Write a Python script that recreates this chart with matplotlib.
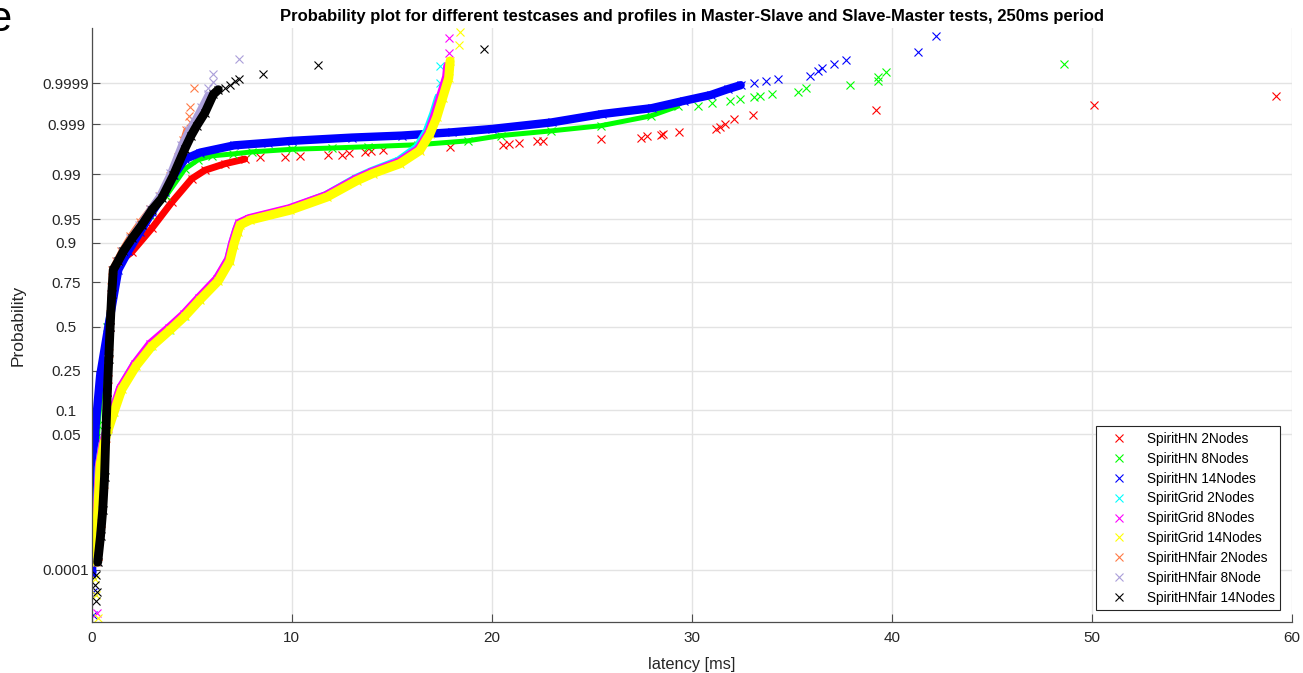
import math
import numpy as np
import matplotlib
matplotlib.use('Agg')
import matplotlib.pyplot as plt
from matplotlib.ticker import FixedLocator, NullLocator

# (latency [ms], probability).
# *_band = dense part of each series, *_tail = the single scattered markers
hn2_band = [(0.30, 2.33e-4), (0.47, 0.00135), (0.62, 0.0107), (0.74, 0.0668), (0.82, 0.2119),
            (0.90, 0.5), (0.98, 0.6915), (1.07, 0.7881), (1.42, 0.8413), (2.0, 0.8729),
            (3.0, 0.9332), (4.0, 0.9713), (5.0, 0.98809), (5.66, 0.99158), (6.66, 0.99361),
            (7.65, 0.99477)]
hn2_tail = [(8.41, 0.99520), (9.66, 0.99520), (10.4, 0.99547), (11.8, 0.99560), (12.5, 0.99573),
            (12.85, 0.99598), (13.65, 0.99621), (13.95, 0.99643), (14.55, 0.99653), (17.9, 0.99693),
            (20.55, 0.99720), (20.85, 0.99737), (21.35, 0.99744), (22.25, 0.99767), (22.55, 0.99774),
            (25.45, 0.99795), (27.45, 0.99807), (27.75, 0.99819), (28.45, 0.99831), (28.55, 0.99841),
            (29.35, 0.99856), (31.2, 0.99874), (31.4, 0.99886), (31.65, 0.99903), (32.1, 0.99924),
            (33.05, 0.99938), (39.2, 0.99953), (50.1, 0.99964), (59.2, 0.99979)]

hn8_band = [(0.07, 2.33e-4), (0.17, 0.00621), (0.32, 0.0668), (0.52, 0.2119), (0.77, 0.5),
            (1.12, 0.7734), (1.52, 0.8643), (2.12, 0.9192), (2.92, 0.9554), (3.72, 0.9772),
            (4.66, 0.99202), (5.32, 0.99461), (6.0, 0.99547), (7.07, 0.99585), (8.0, 0.99621),
            (10.0, 0.99664), (12.0, 0.99683), (13.8, 0.99702), (16.3, 0.99728), (18.8, 0.99774),
            (20.45, 0.99825), (22.95, 0.99861), (25.45, 0.99893), (27.95, 0.99936), (29.3, 0.99962)]
hn8_tail = [(30.3, 0.99962), (31.0, 0.99969), (31.9, 0.99972), (32.4, 0.99975), (33.1, 0.999776),
            (33.4, 0.999792), (34.0, 0.999807), (35.3, 0.999835), (35.7, 0.999864), (37.9, 0.999888),
            (39.3, 0.999912), (39.3, 0.999930), (39.7, 0.999950), (48.6, 0.9999697)]

hn14_band = [(0.02, 7.2e-5), (0.03, 0.00135), (0.08, 0.0139), (0.17, 0.0548), (0.42, 0.2266),
             (0.83, 0.5), (1.33, 0.8078), (1.82, 0.8749), (2.42, 0.9265), (3.02, 0.9599),
             (3.66, 0.9803), (4.12, 0.98983), (4.66, 0.99477), (5.42, 0.99609), (7.12, 0.99720),
             (8.82, 0.99752), (10.0, 0.99774), (13.0, 0.99807), (15.5, 0.99825), (18.0, 0.99851),
             (20.0, 0.99874), (23.0, 0.99910), (25.5, 0.99942), (28.0, 0.99958), (29.6, 0.99972),
             (30.95, 0.999800), (31.8, 0.999858), (32.45, 0.999888)]
hn14_tail = [(0.08, 5.4e-6), (0.04, 2.56e-5), (33.1, 0.999904), (33.7, 0.999915), (34.3, 0.999925),
             (35.9, 0.999936), (36.3, 0.999952), (36.5, 0.999961), (37.1, 0.9999697),
             (37.7, 0.9999775), (41.3, 0.9999867), (42.2, 0.9999955)]

grid2_band = [(0.20, 2.33e-4), (0.27, 0.00187), (0.38, 0.0158), (0.54, 0.0344), (0.78, 0.0571),
              (1.07, 0.0968), (1.42, 0.1660), (2.12, 0.2743), (2.92, 0.3821), (3.87, 0.4801),
              (4.62, 0.5675), (5.37, 0.6628), (6.27, 0.7642), (6.85, 0.8461), (7.05, 0.8980),
              (7.25, 0.9292), (7.37, 0.9418), (7.87, 0.9495), (9.87, 0.9633), (11.7, 0.9772),
              (13.2, 0.98809), (14.0, 0.99110), (15.35, 0.99430), (16.3, 0.99693),
              (16.8, 0.99865), (17.1, 0.99942), (17.35, 0.999767)]
grid2_tail = [(17.4, 0.999904), (17.4, 0.9999655)]

grid8_band = [(0.20, 1.59e-4), (0.27, 0.00187), (0.39, 0.0170), (0.56, 0.0359), (0.80, 0.0606),
              (1.07, 0.1003), (1.44, 0.1736), (2.17, 0.2843), (2.92, 0.3936), (3.87, 0.4920),
              (4.62, 0.5753), (5.37, 0.6700), (6.27, 0.7673), (6.85, 0.8485), (7.05, 0.8997),
              (7.25, 0.9306), (7.37, 0.9429), (7.87, 0.9505), (9.87, 0.9641), (11.7, 0.9772),
              (13.2, 0.98778), (14.0, 0.99086), (15.35, 0.99396), (16.35, 0.99664),
              (16.85, 0.99846), (17.15, 0.99936), (17.45, 0.999784), (17.75, 0.999933),
              (17.8, 0.9999655)]
grid8_tail = [(0.25, 5.9e-6), (17.85, 0.9999854), (17.85, 0.9999948)]

grid14_band = [(0.22, 1.59e-4), (0.29, 0.00187), (0.42, 0.0170), (0.60, 0.0359), (0.83, 0.0582),
               (1.12, 0.0968), (1.50, 0.1685), (2.22, 0.2743), (3.0, 0.3821), (3.92, 0.4801),
               (4.66, 0.5636), (5.41, 0.6591), (6.33, 0.7580), (6.9, 0.8413), (7.1, 0.8944),
               (7.3, 0.9265), (7.42, 0.9400), (7.92, 0.9484), (9.92, 0.9625), (11.75, 0.9761),
               (13.25, 0.98713), (14.05, 0.99036), (15.4, 0.99361), (16.4, 0.99643),
               (16.9, 0.99836), (17.25, 0.99931), (17.55, 0.999767), (17.85, 0.999928),
               (17.92, 0.9999754)]
grid14_tail = [(0.30, 4.3e-6), (0.22, 2.07e-5), (0.17, 5.9e-5), (18.35, 0.9999915), (18.4, 0.9999966)]

fair2_band = [(0.32, 2.33e-4), (0.47, 0.00135), (0.60, 0.0082), (0.70, 0.0446), (0.77, 0.1587),
              (0.84, 0.3446), (0.90, 0.5793), (0.97, 0.7257), (1.0, 0.808), (1.22, 0.8413),
              (1.47, 0.8749), (1.92, 0.9162), (2.42, 0.9452), (2.92, 0.9641), (3.42, 0.9772),
              (3.92, 0.98928), (4.32, 0.99534), (4.57, 0.99781), (4.72, 0.99865)]
fair2_tail = [(4.91, 0.99913), (4.86, 0.99936), (4.91, 0.99960), (5.13, 0.999864)]

fair8_band = [(0.25, 1.59e-4), (0.39, 6.87e-4), (0.52, 0.00256), (0.62, 0.0107), (0.69, 0.0548),
              (0.76, 0.1587), (0.82, 0.3085), (0.89, 0.5), (0.97, 0.6915), (1.04, 0.808),
              (1.27, 0.8413), (1.52, 0.8749), (1.92, 0.9115), (2.37, 0.9394), (2.92, 0.9641),
              (3.37, 0.9772), (3.92, 0.99061), (4.47, 0.99728), (4.82, 0.99865), (5.12, 0.99918),
              (5.47, 0.99960), (5.8, 0.999807)]
fair8_tail = [(5.83, 0.999864), (6.08, 0.999908), (6.08, 0.999943), (7.37, 0.9999784)]

fair14_band = [(0.30, 1.59e-4), (0.44, 6.87e-4), (0.55, 0.00256), (0.64, 0.0107), (0.71, 0.0548),
               (0.78, 0.1587), (0.85, 0.3085), (0.92, 0.5), (1.0, 0.6915), (1.08, 0.808),
               (1.32, 0.8413), (1.58, 0.8749), (2.02, 0.9115), (2.5, 0.9394), (3.0, 0.9625),
               (3.5, 0.9750), (4.08, 0.98956), (4.66, 0.99674), (4.97, 0.99825), (5.25, 0.99893),
               (5.66, 0.99946), (6.08, 0.999807), (6.33, 0.999853)]
fair14_tail = [(0.22, 7.2e-5), (0.17, 3.9e-5), (0.25, 2.56e-5), (0.20, 1.33e-5), (6.66, 0.999864),
               (6.91, 0.999892), (7.16, 0.999915), (7.36, 0.999925), (8.54, 0.999945),
               (11.3, 0.999968), (19.6, 0.9999893)]

names = ['SpiritHN 2Nodes', 'SpiritHN 8Nodes', 'SpiritHN 14Nodes',
         'SpiritGrid 2Nodes', 'SpiritGrid 8Nodes', 'SpiritGrid 14Nodes',
         'SpiritHNfair 2Nodes', 'SpiritHNfair 8Node', 'SpiritHNfair 14Nodes']
bands = [hn2_band, hn8_band, hn14_band, grid2_band, grid8_band, grid14_band,
         fair2_band, fair8_band, fair14_band]
tails = [hn2_tail, hn8_tail, hn14_tail, grid2_tail, grid8_tail, grid14_tail,
         fair2_tail, fair8_tail, fair14_tail]
colors = ['#ff0000', '#00ff00', '#0000ff', '#00ffff', '#ff00ff', '#ffff00',
          '#ff7a45', '#ab9fd9', '#000000']
band_widths = [5.0, 3.6, 6.0, 6.6, 6.6, 6.6, 4.2, 4.2, 6.4]

prob_ticks = [0.0001, 0.05, 0.1, 0.25, 0.5, 0.75, 0.9, 0.95, 0.99, 0.999, 0.9999]

# normal probability scale (no scipy here)
A = [-3.969683028665376e+01, 2.209460984245205e+02, -2.759285104469687e+02,
     1.383577518672690e+02, -3.066479806614716e+01, 2.506628277459239e+00]
B = [-5.447609879822406e+01, 1.615858368580409e+02, -1.556989798598866e+02,
     6.680131188771972e+01, -1.328068155288572e+01]
C = [-7.784894002430293e-03, -3.223964580411365e-01, -2.400758277161838e+00,
     -2.549732539343734e+00, 4.374664141464968e+00, 2.938163982698783e+00]
D = [7.784695709041462e-03, 3.224671290700398e-01, 2.445134137142996e+00,
     3.754408661907416e+00]
PLOW = 0.02425


def norm_ppf(p):
    p = np.asarray(p, dtype=float)
    with np.errstate(all='ignore'):
        q = np.sqrt(-2 * np.log(np.where(p < 0.5, p, 1 - p)))
        tail = ((((((C[0]*q + C[1])*q + C[2])*q + C[3])*q + C[4])*q + C[5])
                / ((((D[0]*q + D[1])*q + D[2])*q + D[3])*q + 1))
        u = p - 0.5
        r = u * u
        mid = ((((((A[0]*r + A[1])*r + A[2])*r + A[3])*r + A[4])*r + A[5]) * u
               / (((((B[0]*r + B[1])*r + B[2])*r + B[3])*r + B[4])*r + 1))
        x = np.where((p >= PLOW) & (p <= 1 - PLOW), mid, np.where(p < 0.5, tail, -tail))
        x = np.where((p > 0) & (p < 1), x, np.nan)
    return x


_erfc = np.vectorize(math.erfc, otypes=[float])


def norm_cdf(z):
    z = np.asarray(z, dtype=float)
    return 0.5 * _erfc(-z / math.sqrt(2))


plt.rcParams['font.family'] = ['Liberation Sans', 'DejaVu Sans']
fig = plt.figure(figsize=(13.03, 6.73), dpi=100)
ax = fig.add_axes([0.0704, 0.0762, 0.9209, 0.8818])
ax.set_yscale('function', functions=(norm_ppf, norm_cdf))

for name, band, tail, col, lw in zip(names, bands, tails, colors, band_widths):
    b = np.array(band)
    pts = np.vstack([b, np.array(tail)])
    ax.plot(b[:, 0], b[:, 1], '-', color=col, lw=lw,
            solid_capstyle='round', solid_joinstyle='round')
    ax.plot(pts[:, 0], pts[:, 1], 'x', color=col, ms=6, mew=0.8, label=name)

ax.set_xlim(0, 60)
ax.set_ylim(norm_cdf(-4.51), norm_cdf(4.56))
ax.set_xticks([0, 10, 20, 30, 40, 50, 60])
ax.yaxis.set_major_locator(FixedLocator(prob_ticks))
ax.yaxis.set_minor_locator(NullLocator())
ax.set_yticklabels([str(t) for t in prob_ticks])
for lab in ax.get_yticklabels():
    lab.set_horizontalalignment('center')

ax.grid(True, color='#e3e3e3', lw=1.0)
ax.set_axisbelow(True)
for s in ['top', 'right']:
    ax.spines[s].set_visible(False)
for s in ['left', 'bottom']:
    ax.spines[s].set_color('#4d4d4d')
    ax.spines[s].set_linewidth(0.9)
ax.tick_params(axis='both', direction='in', length=6, color='#4d4d4d',
               labelcolor='#262626', labelsize=11)
ax.tick_params(axis='y', pad=18.5)
ax.tick_params(axis='x', pad=7)

ax.set_title('Probability plot for different testcases and profiles in Master-Slave and Slave-Master tests, 250ms period',
             fontsize=12.0, fontweight='bold', pad=5)
ax.set_ylabel('Probability', fontsize=12.5, color='#262626')
ax.yaxis.set_label_coords(-0.0555, 0.5)
xl = ax.set_xlabel('latency [ms]', fontsize=11.8, color='#262626')
xl.set_verticalalignment('center')
ax.xaxis.set_label_coords(0.5, -0.0713)

leg = ax.legend(loc='lower right', fontsize=9.8, frameon=True, fancybox=False,
                framealpha=1, edgecolor='#262626', borderaxespad=0.85,
                handlelength=2.7, handletextpad=0.65, labelspacing=0.43,
                borderpad=0.4, numpoints=1)
leg.get_frame().set_linewidth(0.8)

fig.text(-0.009, 1.0, 'e', fontsize=30, ha='left', va='top')

fig.savefig('out.png', dpi=100)
